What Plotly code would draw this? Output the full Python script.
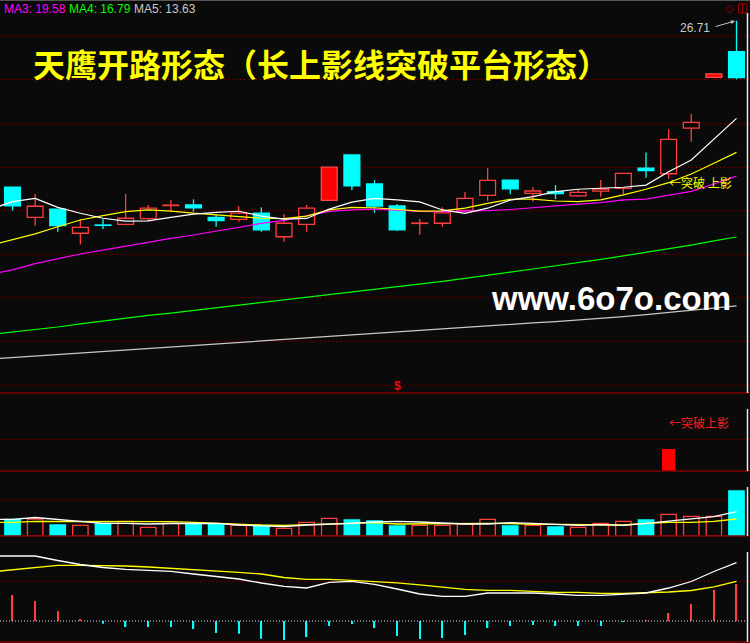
import plotly.graph_objects as go
from plotly.subplots import make_subplots

W, H = 750, 643
BG = "#0a0a0a"
RED = "#ff3d3d"
CYAN = "#00ffff"
GRID = "#800000"

# ---- data ----
idx = list(range(33))
ma_idx = list(range(-1, 33))  # MA lines start one bar left of the first candle

opens = [19.08, 17.69, 18.07, 16.96, 17.34, 17.37, 17.63, 18.23, 18.26, 17.69, 17.60,
         17.88, 16.80, 17.37, 18.47, 20.55, 19.22, 18.21, 17.41, 17.42, 18.01, 18.70,
         19.40, 18.79, 18.87, 18.68, 18.89, 19.02, 19.95, 19.69, 21.78, 24.11, 25.29]
highs = [19.08, 18.76, 18.07, 17.60, 17.60, 18.76, 18.26, 18.49, 18.52, 17.80, 18.21,
         18.15, 17.84, 18.26, 19.99, 20.55, 19.40, 18.30, 17.61, 18.15, 18.85, 19.95,
         19.42, 19.07, 19.17, 18.94, 19.40, 19.73, 20.67, 21.74, 22.43, 24.27, 26.71]
lows = [18.00, 17.31, 17.03, 16.44, 17.16, 17.35, 17.52, 17.98, 17.95, 17.26, 17.49,
        17.03, 16.57, 17.03, 18.47, 18.94, 17.90, 17.08, 16.89, 17.26, 17.92, 18.45,
        18.75, 18.41, 18.53, 18.64, 18.64, 18.76, 19.51, 19.45, 21.16, 24.11, 24.02]
closes = [18.22, 18.20, 17.31, 17.23, 17.32, 17.65, 18.11, 18.25, 18.13, 17.54, 17.88,
          17.12, 17.42, 18.11, 19.99, 19.14, 18.21, 17.12, 17.43, 17.90, 18.56, 19.39,
          19.00, 18.90, 18.78, 18.84, 18.99, 19.71, 19.83, 21.27, 22.05, 24.27, 24.10]
solid_red = [14, 31]  # up candles drawn filled

ma_white = [18.05, 18.41, 18.56, 18.15, 17.88, 17.65, 17.52, 17.53, 17.69, 17.84, 17.92,
            17.97, 17.75, 17.61, 17.64, 18.07, 18.39, 18.56, 18.49, 18.40, 18.03, 17.87,
            18.11, 18.48, 18.64, 18.87, 18.98, 19.02, 19.07, 19.17, 19.78, 20.32, 21.28, 22.23]
ma_yellow = [16.40, 16.68, 16.93, 17.26, 17.57, 17.77, 17.95, 18.03, 17.98, 17.88, 17.80,
             17.72, 17.65, 17.63, 17.75, 18.03, 18.15, 18.13, 18.07, 17.98, 17.99, 18.11,
             18.33, 18.52, 18.53, 18.44, 18.41, 18.49, 18.72, 18.98, 19.28, 19.68, 20.17, 20.67]
ma3 = [15.07, 15.28, 15.57, 15.80, 16.01, 16.19, 16.38, 16.55, 16.73, 16.88, 17.06,
       17.25, 17.41, 17.55, 17.75, 17.96, 18.03, 18.07, 18.02, 17.96, 17.95, 17.96,
       18.00, 18.05, 18.14, 18.23, 18.30, 18.37, 18.49, 18.53, 18.69, 18.88, 19.22, 19.58]
ma4 = [12.32, 12.43, 12.55, 12.66, 12.80, 12.94, 13.07, 13.19, 13.30, 13.42, 13.53,
       13.67, 13.78, 13.90, 14.04, 14.15, 14.27, 14.38, 14.50, 14.61, 14.75, 14.89,
       15.05, 15.18, 15.32, 15.46, 15.60, 15.76, 15.92, 16.08, 16.24, 16.42, 16.61, 16.79]
ma5 = [11.19, 11.26, 11.32, 11.40, 11.46, 11.54, 11.60, 11.68, 11.74, 11.80, 11.88,
       11.95, 12.01, 12.09, 12.15, 12.22, 12.30, 12.36, 12.42, 12.50, 12.57, 12.63,
       12.71, 12.77, 12.85, 12.91, 12.98, 13.05, 13.14, 13.23, 13.33, 13.43, 13.53, 13.63]

signal_idx = [29]
signal_val = [1.0]

vol = [16.7, 17.0, 11.0, 10.7, 12.7, 14.7, 8.7, 12.7, 11.7, 11.7, 10.7, 10.3, 7.7,
       13.7, 17.7, 16.0, 15.0, 10.0, 10.7, 10.7, 12.0, 16.7, 10.0, 10.7, 9.0, 8.7,
       12.7, 14.7, 16.0, 21.7, 19.7, 19.7, 45.0]
vol_ma_white = [16.7, 16.7, 18.5, 16.5, 14.0, 12.7, 12.7, 12.0, 12.5, 12.7, 12.7, 11.0,
                10.3, 9.3, 11.0, 11.7, 12.7, 14.0, 14.7, 14.0, 12.7, 12.0, 12.0, 13.3,
                12.7, 11.7, 10.7, 11.3, 10.7, 12.7, 14.7, 16.7, 19.3, 24.3]
vol_ma_yellow = [13.7, 13.7, 14.7, 14.7, 14.7, 14.7, 14.7, 14.7, 14.3, 13.7, 12.7, 12.0,
                 11.0, 10.7, 11.3, 11.7, 12.3, 13.3, 12.0, 12.3, 12.7, 12.7, 12.7, 12.5,
                 11.7, 11.7, 11.7, 11.0, 11.0, 12.7, 13.7, 13.7, 14.7, 17.0]

dif = [0.65, 0.65, 0.65, 0.605, 0.565, 0.535, 0.517, 0.507, 0.497, 0.47, 0.443, 0.42,
       0.38, 0.347, 0.33, 0.387, 0.397, 0.367, 0.32, 0.27, 0.247, 0.247, 0.28, 0.28,
       0.28, 0.27, 0.257, 0.257, 0.27, 0.28, 0.33, 0.395, 0.495, 0.583]
dea = [0.49, 0.513, 0.537, 0.557, 0.557, 0.557, 0.55, 0.54, 0.527, 0.52, 0.507, 0.487,
       0.47, 0.435, 0.417, 0.417, 0.407, 0.397, 0.382, 0.362, 0.337, 0.317, 0.307, 0.307,
       0.297, 0.287, 0.287, 0.277, 0.277, 0.283, 0.29, 0.305, 0.342, 0.397]
macd = [0.26, 0.20, 0.10, 0.02, -0.027, -0.06, -0.06, -0.06, -0.08, -0.12, -0.127,
        -0.177, -0.19, -0.16, -0.05, -0.03, -0.07, -0.15, -0.18, -0.17, -0.14, -0.07,
        -0.05, -0.04, -0.05, -0.05, -0.05, -0.005, 0.005, 0.08, 0.17, 0.31, 0.37]


def px(x):
    return x / W


def py(y):
    return 1 - y / H


fig = make_subplots(rows=4, cols=1, shared_xaxes=True, vertical_spacing=0)

# ---- candles ----
up = [i for i in idx if closes[i] >= opens[i]]
down = [i for i in idx if closes[i] < opens[i]]


def wick_xy(ids):
    xs, ys = [], []
    for i in ids:
        top, bot = max(opens[i], closes[i]), min(opens[i], closes[i])
        xs += [i, i, None, i, i, None]
        ys += [highs[i], top, None, bot, lows[i], None]
    return xs, ys


for ids, col in [(up, RED), (down, CYAN)]:
    wx, wy = wick_xy(ids)
    fig.add_trace(go.Scatter(x=wx, y=wy, mode="lines", line=dict(color=col, width=1.3),
                             hoverinfo="skip"), row=1, col=1)


def body(ids, fill, line):
    base = [min(opens[i], closes[i]) for i in ids]
    hgt = [max(abs(closes[i] - opens[i]), 0.02) for i in ids]
    return go.Bar(x=ids, y=hgt, base=base, width=0.70,
                  marker=dict(color=fill, line=dict(color=line, width=1.3)))


hollow = [i for i in up if i not in solid_red]
fig.add_trace(body(hollow, BG, RED), row=1, col=1)
fig.add_trace(body(solid_red, "#ff0000", "#ff4a4a"), row=1, col=1)
fig.add_trace(body(down, CYAN, CYAN), row=1, col=1)

for vals, col in [(ma5, "#c8c8c8"), (ma4, "#00ff00"), (ma3, "#ff00ff"),
                  (ma_yellow, "#ffff00"), (ma_white, "#ffffff")]:
    fig.add_trace(go.Scatter(x=ma_idx, y=vals, mode="lines", line=dict(color=col, width=1.2),
                             hoverinfo="skip"), row=1, col=1)

# ---- signal panel ----
fig.add_trace(go.Bar(x=signal_idx, y=signal_val, width=0.58,
                     marker=dict(color="#ff0000", line=dict(width=0))), row=2, col=1)

# ---- volume panel ----
vol_up = [i for i in idx if closes[i] >= opens[i]]
vol_dn = [i for i in idx if closes[i] < opens[i]]
fig.add_trace(go.Bar(x=vol_up, y=[vol[i] for i in vol_up], width=0.68,
                     marker=dict(color=BG, line=dict(color=RED, width=1.3))), row=3, col=1)
fig.add_trace(go.Bar(x=vol_dn, y=[vol[i] for i in vol_dn], width=0.68,
                     marker=dict(color=CYAN, line=dict(color=CYAN, width=1.3))), row=3, col=1)
fig.add_trace(go.Scatter(x=ma_idx, y=vol_ma_yellow, mode="lines",
                         line=dict(color="#ffff00", width=1.3)), row=3, col=1)
fig.add_trace(go.Scatter(x=ma_idx, y=vol_ma_white, mode="lines",
                         line=dict(color="#ffffff", width=1.3)), row=3, col=1)

# ---- macd panel ----
fig.add_trace(go.Bar(x=idx, y=macd, width=0.06,
                     marker=dict(color=[RED if v >= 0 else CYAN for v in macd],
                                 line=dict(width=0))), row=4, col=1)
fig.add_trace(go.Scatter(x=ma_idx, y=dea, mode="lines",
                         line=dict(color="#ffff00", width=1.3)), row=4, col=1)
fig.add_trace(go.Scatter(x=ma_idx, y=dif, mode="lines",
                         line=dict(color="#ffffff", width=1.3)), row=4, col=1)

# ---- axes ----
x_rng = [-12.5 / 22.625, (750 - 12.5) / 22.625]
for r in range(1, 5):
    fig.update_xaxes(range=x_rng, visible=False, row=r, col=1)

ax = dict(showticklabels=False, zeroline=False, showline=False, ticks="",
          gridcolor=GRID, griddash="1px,3px", gridwidth=1)
fig.update_layout(
    yaxis=dict(ax, domain=[py(393), py(0)], range=[20 - 226 / 21.8, 20 + 167 / 21.8],
               tickvals=[10, 12, 14, 16, 18, 20, 22, 24, 26]),
    yaxis2=dict(ax, domain=[py(471), py(393)], range=[0, 78 / 22], tickvals=[32 / 22]),
    yaxis3=dict(ax, domain=[py(536), py(471)], range=[0, 65], tickvals=[35.7]),
    yaxis4=dict(ax, domain=[py(642), py(536)], range=[-0.21, 0.85], tickvals=[0.40]),
)

# ---- frame lines ----
shapes = []
for y in [393, 471, 536, 642]:
    shapes.append(dict(type="line", xref="paper", yref="paper", x0=0, x1=1,
                       y0=py(y), y1=py(y), line=dict(color=GRID, width=1.5)))
shapes.append(dict(type="line", xref="paper", yref="paper", x0=0, x1=1,
                   y0=py(0.5), y1=py(0.5), line=dict(color="#555555", width=1)))
shapes.append(dict(type="line", xref="paper", yref="y4", x0=0, x1=1, y0=0, y1=0,
                   line=dict(color="#e0e0e0", width=1, dash="1px,2px")))
for y0, y1 in [(13, 393), (409, 471), (487, 536), (552, 642)]:
    shapes.append(dict(type="line", xref="paper", yref="paper", x0=px(747.5), x1=px(747.5),
                       y0=py(y0), y1=py(y1), line=dict(color="#e8e8e8", width=1.5)))
shapes.append(dict(type="rect", xref="paper", yref="paper", x0=px(738.5), x1=px(747),
                   y0=py(13), y1=py(4), line=dict(color="#a00000", width=1)))
shapes.append(dict(type="line", xref="paper", yref="paper", x0=px(742.5), x1=px(742.5),
                   y0=py(13), y1=py(4), line=dict(color="#a00000", width=1)))

# ---- texts ----
CJK = "Noto Sans CJK SC"
SANS = "Liberation Sans"


def note(text, x, y, size, color, family=SANS, xanchor="left", weight="normal"):
    return dict(text=text, x=px(x), y=py(y), xref="paper", yref="paper", showarrow=False,
                xanchor=xanchor, yanchor="middle",
                font=dict(family=family, size=size, color=color, weight=weight))


annotations = [
    note("MA3: 19.58", 2, 9, 12, "#ff00ff"),
    note("MA4: 16.79", 67, 9, 12, "#00ff00"),
    note("MA5: 13.63", 132, 9, 12, "#c8c8c8"),
    note("◇", 729, 8, 11, "#a00000", xanchor="center"),
    note("天鹰开路形态（长上影线突破平台形态）", 31, 63, 32, "#ffff00", family=CJK, weight="bold"),
    note("26.71", 712, 28, 12, "#c8c8c8", xanchor="right"),
    note("←突破 上影", 667, 182, 12, "#ffff00", family=CJK),
    note("www.6o7o.com", 733, 298, 33, "#ffffff", xanchor="right", weight="bold"),
    note("$", 398, 386, 12, "#ff0000", xanchor="center", weight="bold"),
    note("←突破上影", 667, 422, 12, "#ff2020", family=CJK),
    dict(x=px(735), y=py(21), xref="paper", yref="paper", ax=-21, ay=6, showarrow=True,
         arrowhead=2, arrowsize=0.8, arrowwidth=1, arrowcolor="#c8c8c8", text=""),
]

fig.update_layout(
    width=W, height=H, margin=dict(l=0, r=0, t=0, b=0),
    paper_bgcolor=BG, plot_bgcolor=BG, barmode="overlay", showlegend=False,
    shapes=shapes, annotations=annotations, hovermode=False,
)

fig.write_html("out.html", config={"displayModeBar": False},
               post_script="document.body.style.margin='0';"
               "document.body.style.background='#0a0a0a';")
